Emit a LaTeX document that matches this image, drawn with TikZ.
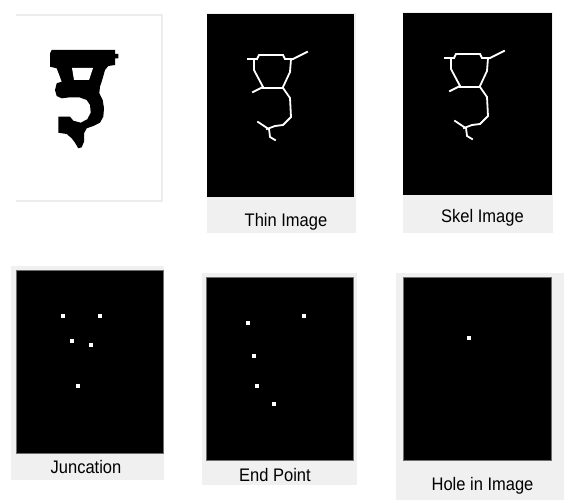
\documentclass[tikz,border=0pt]{standalone}
\usepackage{fontspec}
\usepackage{graphicx}
\setmainfont{Liberation Sans}
\definecolor{panelgray}{RGB}{240,240,240}
\definecolor{framegray}{RGB}{236,236,236}
\definecolor{edgegray}{RGB}{110,110,110}
\tikzset{
  bg/.style={fill=panelgray},
  scr/.style={fill=black, draw=edgegray, line width=0.7pt},
  skel/.style={draw=white, line width=1.8pt, line cap=rect, line join=miter},
  dot/.style={fill=white},
  lbl/.style={anchor=base, inner sep=0pt, font=\fontsize{16.5}{18}\selectfont},
}
\newcommand{\pdot}[2]{\fill[dot] (#1-1.6,#2-1.6) rectangle (#1+1.6,#2+1.6);}
\newcommand{\lab}[1]{\scalebox{1}[1.1]{#1}}
\begin{document}
\begin{tikzpicture}[x=1pt,y=-1pt]
\useasboundingbox (0,0) rectangle (565,500);
\fill[white] (0,0) rectangle (565,500);

% ---- Panel 1: original glyph
\draw[framegray, line width=2pt] (16,15) -- (162,15) -- (162,201) -- (16,201);
\fill[black] (51.7,50) -- (115,50) -- (115,54) -- (118.3,54) -- (118.3,58.3) -- (115,58.3)
  -- (115,65) -- (108.3,66) -- (105,70) -- (102.7,78.3) -- (100,86.7) -- (99.3,93.3)
  -- (102.7,100) -- (104,108.3) -- (103.3,116.7) -- (100,122.7) -- (93.3,126)
  -- (86.7,128.3) -- (84,133.3) -- (84,141.7) -- (81.7,147.3) -- (78.3,148.3)
  -- (75,142.7) -- (71.7,138.3) -- (66.7,134) -- (58.3,132.7) -- (58.3,116.7)
  -- (70,116.7) -- (73.3,120.7) -- (80.7,122.7) -- (87.3,119.3) -- (90.7,112.7)
  -- (90,105) -- (86.7,100) -- (79.3,97.3) -- (70,97.3) -- (61.7,98.3) -- (56.7,96)
  -- (55,90) -- (56.7,83.3) -- (61.7,81.7) -- (59.3,75) -- (56.7,68.3) -- (50,66.7)
  -- (50,53.3) -- cycle;
\fill[white] (72,68) -- (93,68) -- (89,80) -- (74,80) -- cycle;

% ---- Panel 2: thin image
\fill[bg] (207,13) rectangle (356,233);
\fill[black] (207,14) rectangle (354,197);
\begin{scope}
\draw[skel] (248,59) -- (257,59);
\draw[skel] (257,59) -- (259,55) -- (283,55) -- (285,59) -- (293,59);
\draw[skel] (293,59) -- (307,52);
\draw[skel] (254,59) -- (254,70) -- (263,87);
\draw[skel] (291,59) -- (290,72) -- (283,87);
\draw[skel] (263,88) -- (283,88);
\draw[skel] (253,92) -- (263,87);
\draw[skel] (283,88) -- (290,98) -- (291,117) -- (288,120) -- (283,125) -- (275,126) -- (267,129);
\draw[skel] (258,122) -- (267,128);
\draw[skel] (269,129) -- (270,137) -- (275,140);
\end{scope}
\node[lbl] (thin) at (286,226) {\lab{Thin Image}};

% ---- Panel 3: skeleton image
\fill[bg] (403,12) rectangle (553,233);
\fill[black] (403,13) rectangle (552,195);
\begin{scope}[shift={(197,-1)}]
\draw[skel] (248,59) -- (257,59);
\draw[skel] (257,59) -- (259,55) -- (283,55) -- (285,59) -- (293,59);
\draw[skel] (293,59) -- (307,52);
\draw[skel] (254,59) -- (254,70) -- (263,87);
\draw[skel] (291,59) -- (290,72) -- (283,87);
\draw[skel] (263,88) -- (283,88);
\draw[skel] (253,92) -- (263,87);
\draw[skel] (283,88) -- (290,98) -- (291,117) -- (288,120) -- (283,125) -- (275,126) -- (267,129);
\draw[skel] (258,122) -- (267,128);
\draw[skel] (269,129) -- (270,137) -- (275,140);
\end{scope}
\node[lbl] (skelimg) at (482.5,222.7) {\lab{Skel Image}};

% ---- Panel 4: junction points
\fill[bg] (11,266) rectangle (164,480);
\filldraw[scr] (16,270) rectangle (163,453);
\pdot{63}{316} \pdot{100}{316} \pdot{72}{341} \pdot{91}{345} \pdot{78}{386}
\node[lbl] (junc) at (86,473.3) {\lab{Juncation}};

% ---- Panel 5: end points
\fill[bg] (202,273) rectangle (357,485);
\filldraw[scr] (206,277) rectangle (353,460);
\pdot{248}{323} \pdot{304}{316} \pdot{254}{356} \pdot{257}{386} \pdot{274}{404}
\node[lbl] (endp) at (275,481.7) {\lab{End Point}};

% ---- Panel 6: hole
\fill[bg] (396,273) rectangle (564,500);
\filldraw[scr] (403,277) rectangle (551,460);
\pdot{469}{338}
\node[lbl] (hole) at (482.5,490) {\lab{Hole in Image}};
\end{tikzpicture}
\end{document}
